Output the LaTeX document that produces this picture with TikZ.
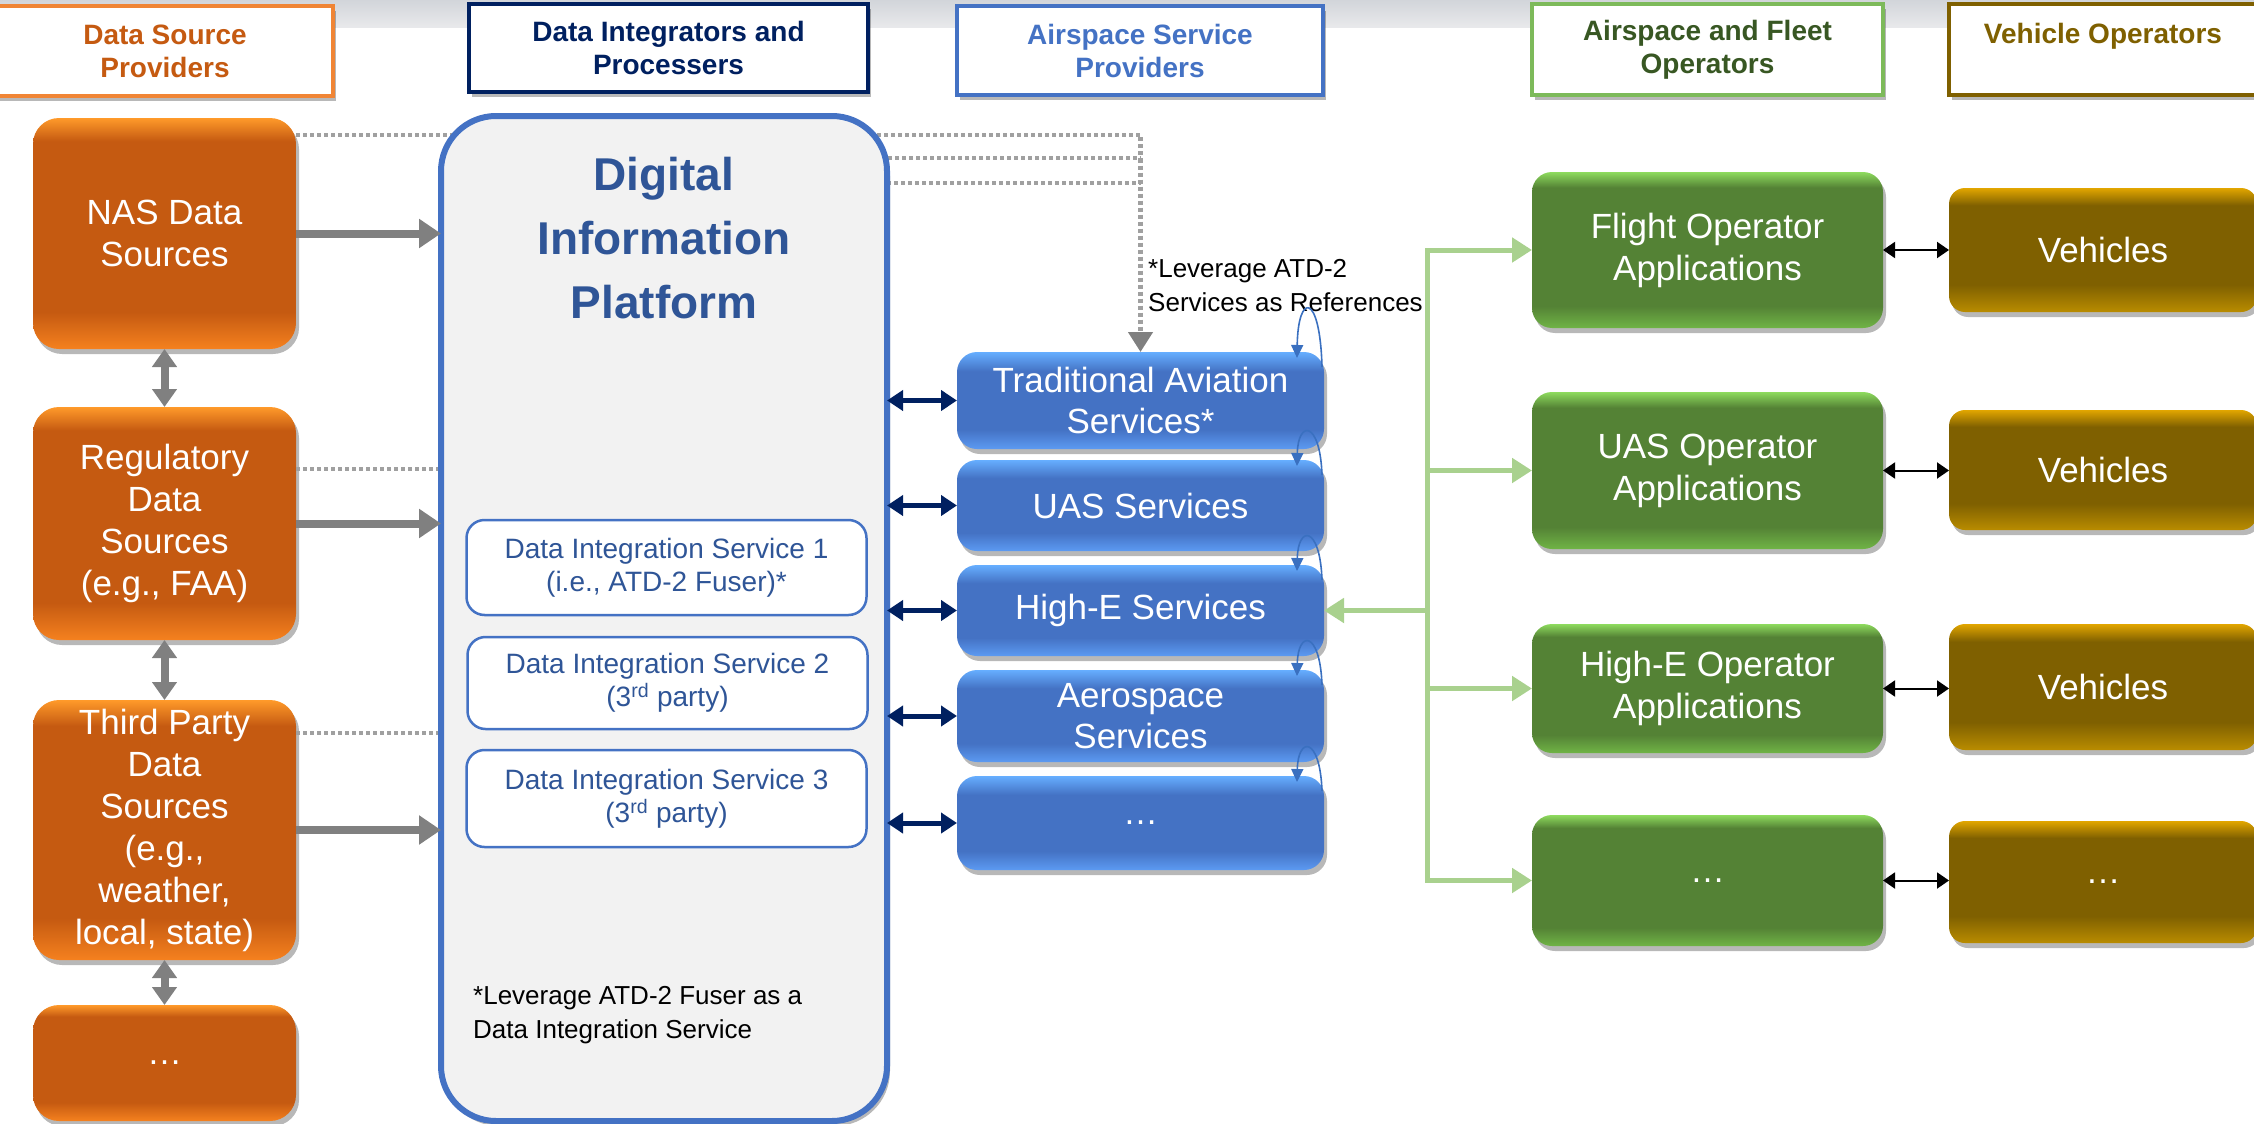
\documentclass[tikz,border=0pt]{standalone}
\usepackage{fontspec}
\setmainfont{Liberation Sans}
\usetikzlibrary{arrows.meta,shadows}

\definecolor{oTop}{HTML}{FF9A2A}
\definecolor{oMid}{HTML}{C55A11}
\definecolor{oBot}{HTML}{F5811F}
\definecolor{bTop}{HTML}{66AEFF}
\definecolor{bMid}{HTML}{4472C4}
\definecolor{bBot}{HTML}{5C9AF2}
\definecolor{gTop}{HTML}{8EDB5E}
\definecolor{gMid}{HTML}{548235}
\definecolor{gBot}{HTML}{70B446}
\definecolor{yTop}{HTML}{E2A600}
\definecolor{yMid}{HTML}{7F6000}
\definecolor{yBot}{HTML}{B98C00}
\definecolor{bandTop}{HTML}{D2D5DA}
\definecolor{bandBot}{HTML}{E9EAEC}
\definecolor{hOrange}{HTML}{F08535}
\definecolor{tOrange}{HTML}{C55A11}
\definecolor{navy}{HTML}{002060}
\definecolor{hBlue}{HTML}{4472C4}
\definecolor{hGreen}{HTML}{7DBA5A}
\definecolor{tGreen}{HTML}{385723}
\definecolor{hBrown}{HTML}{7F6000}
\definecolor{dipFill}{HTML}{F2F2F2}
\definecolor{disText}{HTML}{2F5597}
\definecolor{arrowGray}{HTML}{808080}
\definecolor{dotGray}{HTML}{A0A0A0}
\definecolor{lgreen}{HTML}{A9D18E}
\definecolor{loopBlue}{HTML}{3A70C0}

\pgfdeclareverticalshading{orangegloss}{100bp}{color(0bp)=(oBot); color(25bp)=(oBot); color(33bp)=(oMid); color(70bp)=(oMid); color(75bp)=(oTop); color(100bp)=(oTop)}
\pgfdeclareverticalshading{bluegloss}{100bp}{color(0bp)=(bBot); color(25bp)=(bBot); color(35bp)=(bMid); color(65bp)=(bMid); color(75bp)=(bTop); color(100bp)=(bTop)}
\pgfdeclareverticalshading{greengloss}{100bp}{color(0bp)=(gBot); color(25bp)=(gBot); color(32bp)=(gMid); color(70bp)=(gMid); color(75bp)=(gTop); color(100bp)=(gTop)}
\pgfdeclareverticalshading{browngloss}{100bp}{color(0bp)=(yBot); color(25bp)=(yBot); color(36bp)=(yMid); color(68bp)=(yMid); color(75bp)=(yTop); color(100bp)=(yTop)}

\begin{document}
\begin{tikzpicture}[x=1pt,y=-1pt,
  shd/.style={drop shadow={shadow xshift=3pt,shadow yshift=-5pt,opacity=0.28,fill=black}},
  hdr/.style={fill=white,line width=4pt,inner sep=0pt,outer sep=0pt,align=center,
    font=\bfseries\fontsize{28}{33}\selectfont,shd},
  glossbox/.style={shade,rounded corners=22pt,inner sep=0pt,outer sep=0pt,text=white,
    align=center,font=\fontsize{35}{42}\selectfont,shd},
  obox/.style={glossbox,shading=orangegloss,minimum width=263pt,rounded corners=26pt},
  bbox/.style={glossbox,shading=bluegloss,minimum width=367pt,rounded corners=20pt,
    font=\fontsize{35}{41}\selectfont},
  gbox/.style={glossbox,shading=greengloss,minimum width=351pt,rounded corners=20pt},
  ybox/.style={glossbox,shading=browngloss,minimum width=308pt,rounded corners=16pt},
  dis/.style={fill=white,draw=hBlue,line width=2.5pt,rounded corners=18pt,minimum width=400pt,
    inner sep=0pt,outer sep=0pt,align=center,text=disText,font=\fontsize{28}{33}\selectfont},
  dipbox/.style={fill=dipFill,draw=hBlue,line width=6pt,rounded corners=55pt,inner sep=0pt,
    outer sep=0pt,shd},
  diptitle/.style={align=center,text=disText,font=\bfseries\fontsize{46}{64}\selectfont,inner sep=0pt},
  note/.style={align=left,font=\fontsize{26}{34}\selectfont,inner sep=0pt,text=black},
  grayarrow/.style={draw=arrowGray,line width=8pt,-{Triangle[length=22pt,width=28pt]}},
  graydbl/.style={draw=arrowGray,line width=8pt,{Triangle[length=18pt,width=24pt]}-{Triangle[length=18pt,width=24pt]}},
  dotline/.style={draw=dotGray,line width=4.5pt,dash pattern=on 4pt off 3pt},
  dotarrow/.style={dotline,-{Triangle[length=20pt,width=24pt,color=arrowGray]}},
  navydbl/.style={draw=navy,line width=5pt,{Triangle[length=16pt,width=20pt]}-{Triangle[length=16pt,width=20pt]}},
  blackdbl/.style={draw=black,line width=2pt,{Triangle[length=12pt,width=16pt]}-{Triangle[length=12pt,width=16pt]}},
  greenline/.style={draw=lgreen,line width=5pt},
  greenarrow/.style={greenline,-{Triangle[length=20pt,width=24pt]}},
  loopline/.style={draw=loopBlue,line width=1.6pt,-{Triangle[length=13pt,width=12pt]}}
]
\useasboundingbox (0,0) rectangle (2254,1124);
\clip (0,0) rectangle (2254,1124);
\shade[top color=bandTop,bottom color=bandBot] (0,0) rectangle (2254,28);

% headers
\node[hdr,draw=hOrange,text=tOrange,minimum width=336pt,minimum height=90pt] (h1) at (165,51) {Data Source\\Providers};
\node[hdr,draw=navy,text=navy,minimum width=399pt,minimum height=88pt] (h2) at (668.5,48) {Data Integrators and\\Processers};
\node[hdr,draw=hBlue,text=hBlue,minimum width=366pt,minimum height=89pt] (h3) at (1140,50.5) {Airspace Service\\Providers};
\node[hdr,draw=hGreen,text=tGreen,minimum width=351pt,minimum height=91pt] (h4) at (1707.5,49.5) {Airspace and Fleet\\Operators};
\node[hdr,draw=hBrown,text=hBrown,minimum width=308pt,minimum height=91pt] (h5) at (2103,49.5) {Vehicle Operators\\\mbox{}};

% data sources
\node[obox,minimum height=231pt] (nas) at (164.5,233.5) {NAS Data\\Sources};
\node[obox,minimum height=233pt] (reg) at (164.5,523.5) {Regulatory\\Data\\Sources\\(e.g., FAA)};
\node[obox,minimum height=260pt] (third) at (164.5,830) {Third Party\\Data\\Sources\\(e.g.,\\weather,\\local, state)};
\node[obox,minimum height=116pt] (odots) at (164.5,1063) {…};

% airspace services
\node[bbox,minimum height=97pt] (trad) at (1140.5,400.5) {Traditional Aviation\\Services*};
\node[bbox,minimum height=91pt] (uas) at (1140.5,505.5) {UAS Services};
\node[bbox,minimum height=91pt] (highe) at (1140.5,610.5) {High-E Services};
\node[bbox,minimum height=92pt] (aero) at (1140.5,716) {Aerospace\\Services};
\node[bbox,minimum height=94pt] (bdots) at (1140.5,823) {…};

% dotted connectors (partly hidden behind the platform)
\coordinate (dj2) at (1140.5,158);
\coordinate (dj3) at (1140.5,183);
\draw[dotarrow] ([yshift=-17pt]nas.north east) -| (trad.north);
\draw[dotline] ([yshift=-62pt]reg.north east) -- ++(300,0) |- (dj2);
\draw[dotline] ([yshift=-33pt]third.north east) -- ++(320,0) |- (dj3);

% platform
\node[dipbox,minimum width=446pt,minimum height=1005pt] (dip) at (664,618.5) {};
\node[diptitle] (dipt) at (664,238) {Digital\\Information\\Platform};
\node[dis,minimum height=95pt] (dis1) at (666.5,567.5) {Data Integration Service 1\\(i.e., ATD-2 Fuser)*};
\node[dis,minimum height=92pt] (dis2) at (667.5,683) {Data Integration Service 2\\(3\textsuperscript{rd} party)};
\node[dis,minimum height=97pt] (dis3) at (666.5,798.5) {Data Integration Service 3\\(3\textsuperscript{rd} party)};
\node[note,anchor=west] (fn) at (473,1015) {*Leverage ATD-2 Fuser as a\\Data Integration Service};

% operators
\node[gbox,minimum height=156pt] (flight) at (1707.5,250) {Flight Operator\\Applications};
\node[gbox,minimum height=157pt] (uasop) at (1707.5,470.5) {UAS Operator\\Applications};
\node[gbox,minimum height=129pt] (higheop) at (1707.5,688.5) {High-E Operator\\Applications};
\node[gbox,minimum height=131pt] (gdots) at (1707.5,880.5) {…};

\node[ybox,minimum height=124pt] (veh1) at (2103,250) {Vehicles};
\node[ybox,minimum height=120pt] (veh2) at (2103,470) {Vehicles};
\node[ybox,minimum height=126pt] (veh3) at (2103,687) {Vehicles};
\node[ybox,minimum height=122pt] (ydots) at (2103,882) {…};

\node[note,anchor=west] (refnote) at (1148,286) {*Leverage ATD-2\\Services as References};

% source connectors
\draw[grayarrow] (nas.east) -- (nas.east -| dip.west);
\draw[grayarrow] (reg.east) -- (reg.east -| dip.west);
\draw[grayarrow] (third.east) -- (third.east -| dip.west);
\draw[graydbl] (nas.south) -- (reg.north);
\draw[graydbl] (reg.south) -- (third.north);
\draw[graydbl] (third.south) -- (odots.north);

% platform <-> services
\draw[navydbl] (trad.west -| dip.east) -- (trad.west);
\draw[navydbl] (uas.west -| dip.east) -- (uas.west);
\draw[navydbl] (highe.west -| dip.east) -- (highe.west);
\draw[navydbl] (aero.west -| dip.east) -- (aero.west);
\draw[navydbl] (bdots.west -| dip.east) -- (bdots.west);

% reference loops
\draw[loopline] ([xshift=-2pt,yshift=-15pt]trad.north east) .. controls +(-2,-75) and +(1,-66) .. ([xshift=-27pt,yshift=-6pt]trad.north east);
\draw[loopline] ([xshift=-2pt,yshift=-15pt]uas.north east) .. controls +(-2,-55) and +(1,-46) .. ([xshift=-27pt,yshift=-6pt]uas.north east);
\draw[loopline] ([xshift=-2pt,yshift=-15pt]highe.north east) .. controls +(-2,-55) and +(1,-46) .. ([xshift=-27pt,yshift=-6pt]highe.north east);
\draw[loopline] ([xshift=-2pt,yshift=-15pt]aero.north east) .. controls +(-2,-55) and +(1,-46) .. ([xshift=-27pt,yshift=-6pt]aero.north east);
\draw[loopline] ([xshift=-2pt,yshift=-15pt]bdots.north east) .. controls +(-2,-55) and +(1,-46) .. ([xshift=-27pt,yshift=-6pt]bdots.north east);

% green distribution
\coordinate (gx) at (1427,0);
\draw[greenline,line cap=rect] (flight.west -| gx) -- (gdots.west -| gx);
\draw[greenarrow] (flight.west -| gx) -- (flight.west);
\draw[greenarrow] (uasop.west -| gx) -- (uasop.west);
\draw[greenarrow] (higheop.west -| gx) -- (higheop.west);
\draw[greenarrow] (gdots.west -| gx) -- (gdots.west);
\draw[greenarrow] (highe.east -| gx) -- (highe.east);

% operators <-> vehicles
\draw[blackdbl] (flight.east) -- (flight.east -| veh1.west);
\draw[blackdbl] (uasop.east) -- (uasop.east -| veh2.west);
\draw[blackdbl] (higheop.east) -- (higheop.east -| veh3.west);
\draw[blackdbl] (gdots.east) -- (gdots.east -| ydots.west);
\end{tikzpicture}
\end{document}
